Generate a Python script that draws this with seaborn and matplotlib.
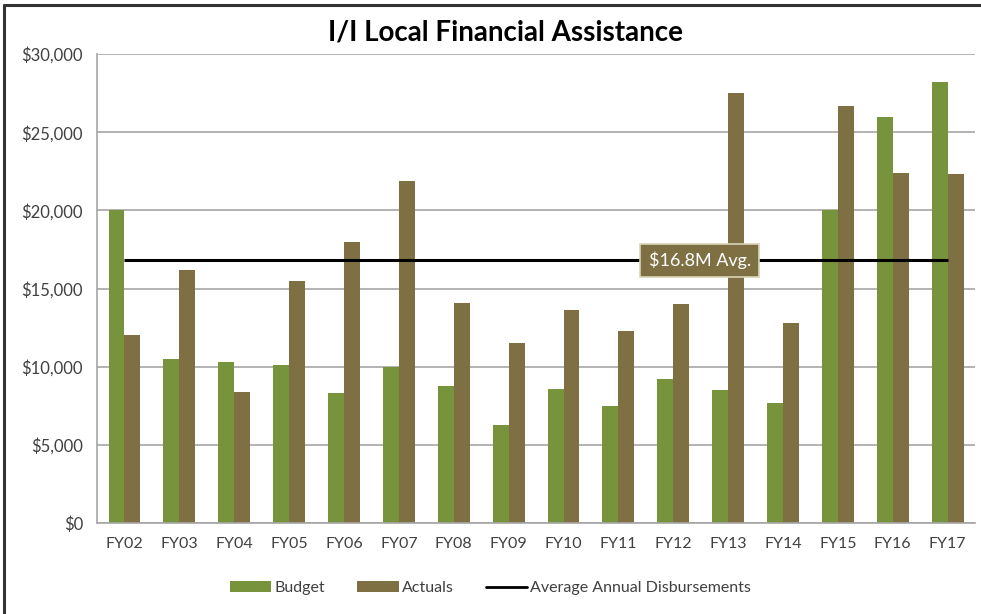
import matplotlib
matplotlib.use("Agg")
import matplotlib.pyplot as plt
import matplotlib.ticker as mticker
from matplotlib.patches import Patch
from matplotlib.lines import Line2D
import seaborn as sns
import pandas as pd
import numpy as np

years = ["FY02", "FY03", "FY04", "FY05", "FY06", "FY07", "FY08", "FY09",
         "FY10", "FY11", "FY12", "FY13", "FY14", "FY15", "FY16", "FY17"]
budget = [20000, 10500, 10300, 10100, 8300, 10000, 8800, 6300,
          8600, 7500, 9200, 8500, 7700, 20000, 26000, 28200]
actuals = [12000, 16200, 8400, 15500, 18000, 21900, 14100, 11500,
           13600, 12300, 14000, 27500, 12800, 26700, 22400, 22300]
average = 16800
avg_label = "$16.8M Avg."
title = "I/I Local Financial Assistance"
series_names = ["Budget", "Actuals"]
line_name = "Average Annual Disbursements"

GREEN = "#77933C"
BROWN = "#7F7043"
GRID = "#A6A6A6"
TXT = "#404040"

sns.set_theme(style="white")
plt.rcParams["font.family"] = ["Lato", "DejaVu Sans"]

df = pd.DataFrame({
    "Year": years * 2,
    "Value": budget + actuals,
    "Series": [series_names[0]] * len(years) + [series_names[1]] * len(years),
})

fig = plt.figure(figsize=(9.81, 6.14), dpi=100)
ax = fig.add_axes([0.0989, 0.148, 0.8951, 0.764])

ax.set_axisbelow(True)
ax.yaxis.grid(True, color=GRID, linewidth=1.2)
sns.barplot(data=df, x="Year", y="Value", hue="Series", order=years,
            palette=[GREEN, BROWN], width=0.58, saturation=1, gap=0,
            ax=ax, legend=False, edgecolor="none")

n = len(years)
ax.hlines(average, 0, n - 1, color="black", linewidth=2.2, zorder=5)
ax.text(10.48, average, avg_label, ha="center", va="center", color="white",
        fontsize=13, zorder=6,
        bbox=dict(boxstyle="square,pad=0.45", facecolor=BROWN,
                  edgecolor="#D9D4B8", linewidth=1.2))

ax.set_xlim(-0.5, n - 0.5)
ax.set_ylim(0, 30000)
ax.yaxis.set_major_locator(mticker.MultipleLocator(5000))
ax.yaxis.set_major_formatter(mticker.FuncFormatter(lambda v, p: f"${v:,.0f}"))
ax.set_xlabel("")
ax.set_ylabel("")

ax.set_xticks(range(n))
ax.set_xticklabels(years)
ax.set_xticks(np.arange(-0.5, n, 1.0), minor=True)
ax.tick_params(axis="x", which="major", length=0, pad=10, labelsize=11.5, labelcolor=TXT)
ax.tick_params(axis="x", which="minor", length=5, color=GRID, width=1.2, direction="out")
ax.tick_params(axis="y", which="major", length=6, color=GRID, width=1.2,
               direction="out", labelsize=12, labelcolor=TXT, pad=4)

for s in ["top", "right"]:
    ax.spines[s].set_visible(False)
for s in ["left", "bottom"]:
    ax.spines[s].set_color(GRID)
    ax.spines[s].set_linewidth(1.2)

fig.text(0.515, 0.947, title, ha="center", va="center", fontsize=20,
         fontweight="bold", color="black")

handles = [Patch(facecolor=GREEN, edgecolor="none", label=series_names[0]),
           Patch(facecolor=BROWN, edgecolor="none", label=series_names[1]),
           Line2D([0], [0], color="black", linewidth=2, label=line_name)]
fig.legend(handles=handles, loc="center", bbox_to_anchor=(0.5, 0.042), ncol=3,
           frameon=False, fontsize=11.5, handlelength=2.6, handleheight=0.7,
           handletextpad=0.2, columnspacing=2.0, labelcolor=TXT)

# outer frame (left and top edges)
fig.add_artist(Line2D([0.004, 0.004], [0.0, 0.992], transform=fig.transFigure,
                      color="#333333", linewidth=2.2))
fig.add_artist(Line2D([0.004, 1.0], [0.992, 0.992], transform=fig.transFigure,
                      color="#333333", linewidth=2.2))

fig.savefig("out.png", dpi=100, facecolor="white")
